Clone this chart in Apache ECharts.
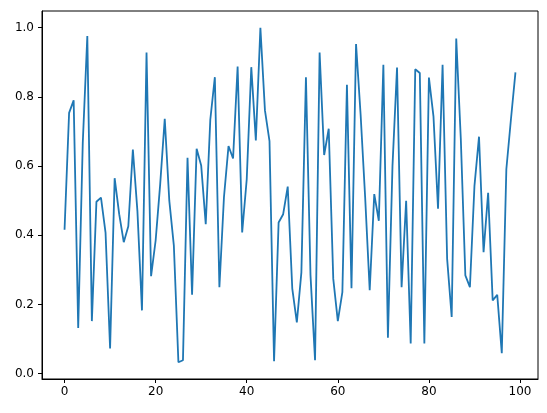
<!DOCTYPE html>
<html>
<head>
<meta charset="utf-8">
<script src="https://cdn.jsdelivr.net/npm/echarts@6/dist/echarts.min.js"></script>
<style>
  html, body { margin: 0; padding: 0; background: #fff; }
  #main { width: 547px; height: 413px; }
</style>
</head>
<body>
<div id="main"></div>
<script>
// values, index 0..99
var values = [
  0.416, 0.754, 0.790, 0.132, 0.667, 0.976, 0.152, 0.497, 0.509, 0.408,
  0.073, 0.565, 0.461, 0.380, 0.426, 0.648, 0.470, 0.183, 0.928, 0.282,
  0.385, 0.548, 0.737, 0.500, 0.370, 0.033, 0.039, 0.624, 0.228, 0.650,
  0.602, 0.432, 0.734, 0.857, 0.250, 0.510, 0.658, 0.622, 0.888, 0.408,
  0.562, 0.886, 0.674, 1.000, 0.761, 0.672, 0.036, 0.437, 0.461, 0.541,
  0.246, 0.148, 0.293, 0.857, 0.285, 0.039, 0.928, 0.632, 0.708, 0.274,
  0.152, 0.236, 0.835, 0.247, 0.953, 0.750, 0.510, 0.241, 0.519, 0.442,
  0.893, 0.104, 0.600, 0.885, 0.250, 0.500, 0.087, 0.880, 0.869, 0.087,
  0.856, 0.744, 0.477, 0.893, 0.332, 0.164, 0.969, 0.680, 0.284, 0.250,
  0.543, 0.685, 0.351, 0.523, 0.212, 0.228, 0.059, 0.591, 0.734, 0.871
];
var xTicks = [0, 20, 40, 60, 80, 100];
var yTicks = [0, 0.2, 0.4, 0.6, 0.8, 1.0];

var points = [];
for (var i = 0; i < values.length; i++) {
  points.push([i, values[i]]);
}

// matplotlib style 5% margins
var xMin = -0.05 * (values.length - 1), xMax = (values.length - 1) * 1.05;
var vMin = Math.min.apply(null, values), vMax = Math.max.apply(null, values);
var yMin = vMin - 0.05 * (vMax - vMin), yMax = vMax + 0.05 * (vMax - vMin);

var font = { fontFamily: 'DejaVu Sans', fontSize: 12, color: '#000' };

var myChart = echarts.init(document.getElementById('main'));
var option = {
  animation: false,
  backgroundColor: '#fff',
  grid: {
    left: 42, right: 9, top: 11, bottom: 34,
    show: true, borderColor: '#000', borderWidth: 1, backgroundColor: 'transparent'
  },
  xAxis: {
    type: 'value',
    min: xMin, max: xMax,
    splitLine: { show: false },
    axisLine: { show: true, onZero: false, lineStyle: { color: '#000', width: 1 } },
    axisTick: { show: true, length: 4, customValues: xTicks, lineStyle: { color: '#000' } },
    axisLabel: Object.assign({ margin: 7, customValues: xTicks, formatter: function (v) { return String(v); } }, font)
  },
  yAxis: {
    type: 'value',
    min: yMin, max: yMax,
    splitLine: { show: false },
    axisLine: { show: true, onZero: false, lineStyle: { color: '#000', width: 1 } },
    axisTick: { show: true, length: 4, customValues: yTicks, lineStyle: { color: '#000' } },
    axisLabel: Object.assign({ margin: 8, customValues: yTicks, formatter: function (v) { return v.toFixed(1); } }, font)
  },
  series: [
    {
      type: 'line',
      data: points,
      showSymbol: false,
      lineStyle: { color: '#1f77b4', width: 1.8 },
      z: 3
    }
  ]
};
myChart.setOption(option);
</script>
</body>
</html>
